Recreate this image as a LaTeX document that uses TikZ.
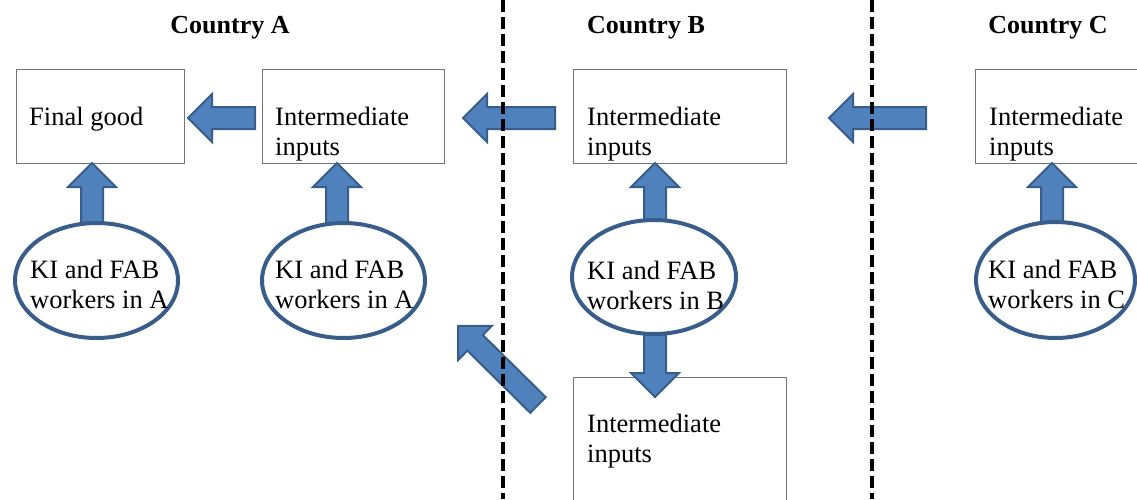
\documentclass[tikz,border=0pt]{standalone}
\usepackage{fontspec}
\setmainfont{Liberation Serif}
\usetikzlibrary{calc,shapes.geometric}
\definecolor{afill}{HTML}{4F81BD}
\definecolor{aedge}{HTML}{385D8A}
\newcommand\blockarr[2]{%
  \coordinate (hb) at ($(#2)!24pt!(#1)$);
  \draw[barrow] ($(#1)!11pt!90:(#2)$) -- ($(hb)!11pt!-90:(#1)$) -- ($(hb)!24pt!-90:(#1)$) -- (#2)
     -- ($(hb)!24pt!90:(#1)$) -- ($(hb)!11pt!90:(#1)$) -- ($(#1)!11pt!-90:(#2)$) -- cycle;}
\begin{document}
\begin{tikzpicture}[x=1pt,y=-1pt,
  box/.style={draw=black!55, line width=1, rectangle, inner sep=0, anchor=north west},
  ell/.style={draw=aedge, line width=4, fill=white, ellipse, inner sep=0},
  txt/.style={font=\fontsize{26.5}{30}\selectfont, inner sep=0, anchor=base west},
  ttl/.style={font=\fontsize{26}{30}\selectfont\bfseries, inner sep=0, anchor=base},
  barrow/.style={draw=aedge, fill=afill, line width=2, line join=miter},
  divider/.style={line width=4, dash pattern=on 12pt off 5pt}]
\useasboundingbox (0,0) rectangle (1137,499);
% boxes
\node[box, minimum width=168, minimum height=94] (fg) at (16,69) {};
\node[box, minimum width=182, minimum height=94] (iA) at (262,69) {};
\node[box, minimum width=213, minimum height=94] (iB) at (573,69) {};
\node[box, minimum width=162, minimum height=94] (iC) at (975,69) {};
\node[box, minimum width=213, minimum height=130] (iB2) at (573,377) {};
% box texts
\node[txt] (tfg) at (29,125) {Final good};
\node[txt] (tA1) at (275,125) {Intermediate};
\node[txt] (tA2) at (275,155) {inputs};
\node[txt] (tB1) at (587,125) {Intermediate};
\node[txt] (tB2) at (587,155) {inputs};
\node[txt] (tC1) at (989,125) {Intermediate};
\node[txt] (tC2) at (989,155) {inputs};
\node[txt] (tD1) at (587,432) {Intermediate};
\node[txt] (tD2) at (587,462) {inputs};
% arrow end points
\coordinate (h1s) at (255,118); \coordinate (h1e) at (188,118);
\coordinate (h2s) at (555,118); \coordinate (h2e) at (463,118);
\coordinate (h3s) at (926,118); \coordinate (h3e) at (829,118);
\coordinate (u1s) at (92,224);  \coordinate (u1e) at (92,163);
\coordinate (u2s) at (337,224); \coordinate (u2e) at (337,163);
\coordinate (uBs) at (655,221); \coordinate (uBe) at (655,163);
\coordinate (uCs) at (1052,223); \coordinate (uCe) at (1052,163);
\coordinate (dBs) at (655,334); \coordinate (dBe) at (655,397);
\coordinate (dgs) at (538,405); \coordinate (dge) at (458,326);
\blockarr{h1s}{h1e}
\blockarr{h2s}{h2e}
\blockarr{h3s}{h3e}
\blockarr{u1s}{u1e}
\blockarr{u2s}{u2e}
\blockarr{uBs}{uBe}
\blockarr{uCs}{uCe}
\blockarr{dBs}{dBe}
\blockarr{dgs}{dge}
% ellipses
\node[ell, minimum width=163, minimum height=115] (e1) at (96.5,280.5) {};
\node[ell, minimum width=163, minimum height=115] (e2) at (343.5,280.5) {};
\node[ell, minimum width=164, minimum height=114] (eB) at (654,277) {};
\node[ell, minimum width=159, minimum height=116] (eC) at (1055.5,280) {};
\node[txt] (k1a) at (30,278) {KI and FAB};
\node[txt] (k1b) at (30,308) {workers in A};
\node[txt] (k2a) at (275,278) {KI and FAB};
\node[txt] (k2b) at (275,308) {workers in A};
\node[txt] (kBa) at (587,279) {KI and FAB};
\node[txt] (kBb) at (587,309) {workers in B};
\node[txt] (kCa) at (988,278) {KI and FAB};
\node[txt] (kCb) at (988,308) {workers in C};
% dividers
\draw[divider] (503,0) -- (503,499);
\draw[divider] (872,0) -- (872,499);
% titles
\node[ttl] (cA) at (230,33) {Country A};
\node[ttl] (cB) at (646,33) {Country B};
\node[ttl] (cC) at (1048,33) {Country C};
\end{tikzpicture}
\end{document}
